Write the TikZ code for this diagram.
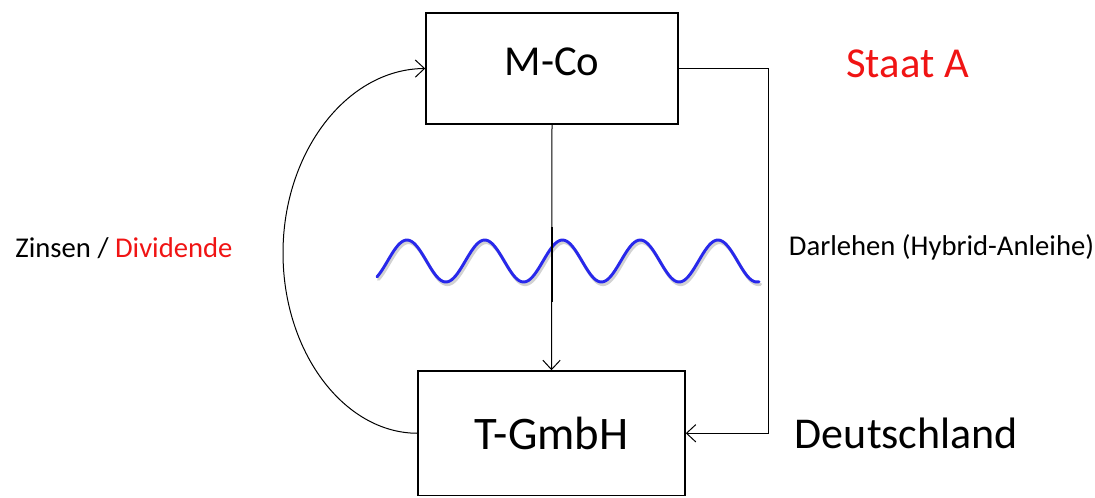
\documentclass[tikz,border=0pt]{standalone}
\usepackage{fontspec}
\setmainfont{Carlito}
\usetikzlibrary{arrows.meta}
\definecolor{wave}{RGB}{40,40,235}
\definecolor{lred}{RGB}{240,20,20}
\begin{document}
\begin{tikzpicture}[x=0.75pt,y=-0.75pt,
  box/.style={draw=black,line width=1.1pt,fill=white,inner sep=0pt},
  conn/.style={draw=black,line width=0.75pt},
  arr/.style={-{Straight Barb[length=7pt,width=13pt,line width=0.75pt]}},
  lbl/.style={anchor=base,inner sep=0pt,font=\fontsize{21.5}{24}\selectfont}]
\useasboundingbox (0,0) rectangle (1095,497);
% boxes
\node[box,minimum width=252*0.75pt,minimum height=111*0.75pt,
  font=\fontsize{32}{36}\selectfont,text height=9.75pt,text depth=0pt] (M) at (552,68.5) {M-Co};
\node[box,minimum width=267*0.75pt,minimum height=124.5*0.75pt,
  font=\fontsize{35}{40}\selectfont,text height=25pt,text depth=0pt] (T) at (551.5,433.25) {T-GmbH};
% labels
\node[anchor=base,inner sep=0pt,text=lred,font=\fontsize{32}{36}\selectfont] (SA) at (907.5,77) {Staat A};
\node[anchor=base,inner sep=0pt,font=\fontsize{33}{38}\selectfont] (DE) at (906.5,448) {Deutschland};
\node[lbl] (ZD) at (124,257) {Zinsen / \textcolor{lred}{Dividende}};
\node[lbl] (DL) at (941.5,255) {Darlehen (Hybrid-Anleihe)};
% connectors
\coordinate (R1) at (768,68.5);
\coordinate (R2) at (768,433.25);
\draw[conn,arr] (M.east) -- (R1) -- (R2) -- (T.east);
\draw[conn,arr] (M.south) -- (T.north);
\draw[conn,arr] (T.west) .. controls (344,433) and (283,352) .. (283,253)
  .. controls (283,152) and (347,69) .. (M.west);
% wave with shadow
\draw[black!35,opacity=0.5,line width=2.4pt,line cap=round]
  plot[domain=377:759,samples=200,smooth] ({\x+1.5},{263.5-21*cos(4.6302*(\x-407))});
\draw[wave,line width=2.2pt,line cap=round]
  plot[domain=377:759,samples=200,smooth] (\x,{261-21*cos(4.6302*(\x-407))});
% thick crossing segment
\coordinate (C1) at (552,227);
\coordinate (C2) at (552,302);
\draw[black,line width=2pt] (C1) -- (C2);
\end{tikzpicture}
\end{document}
